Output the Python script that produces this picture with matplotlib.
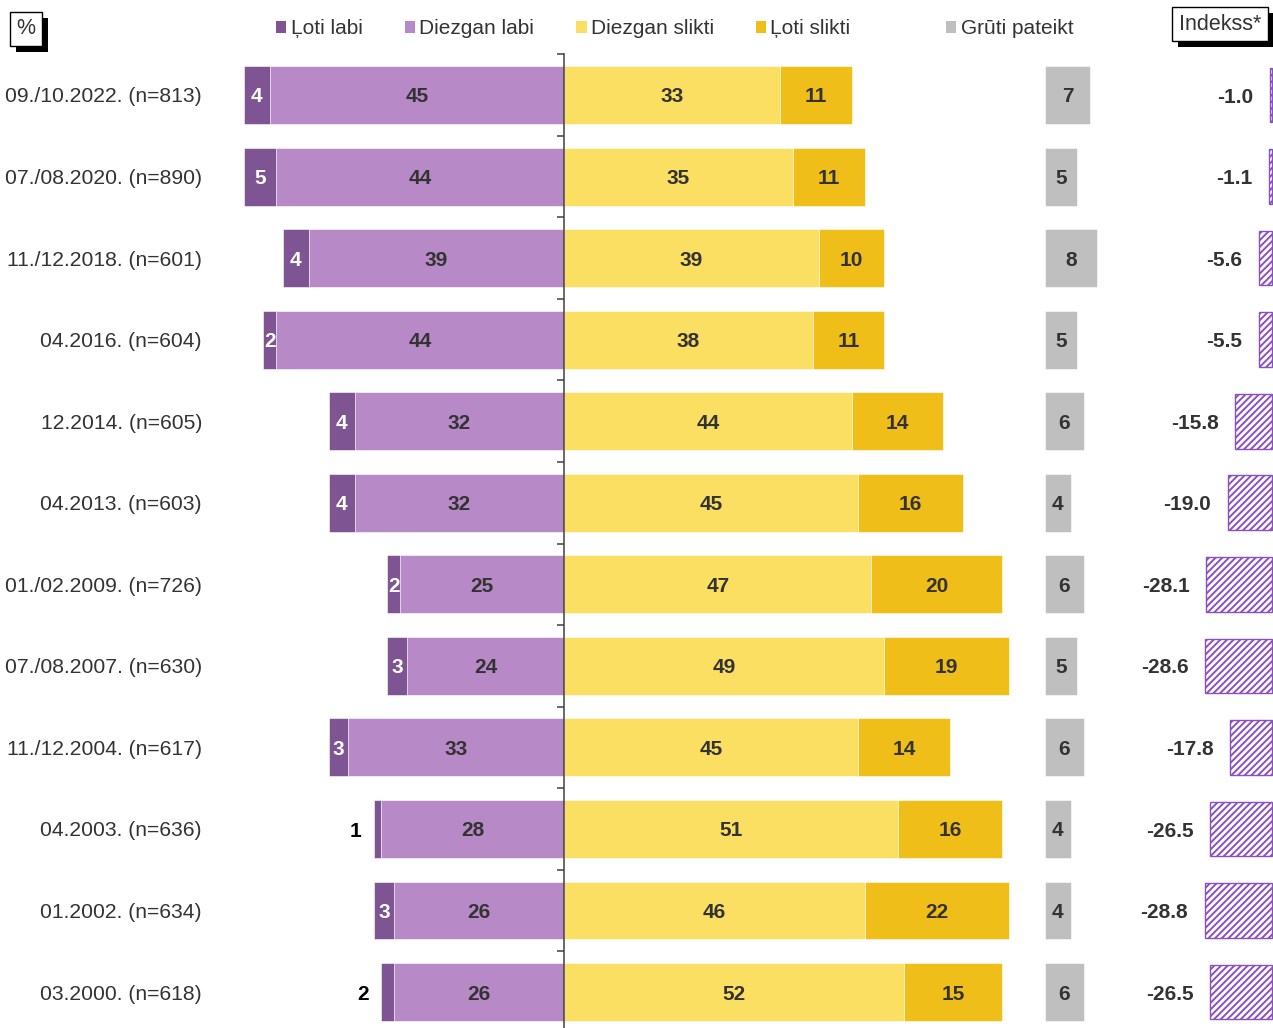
import numpy as np
import matplotlib
matplotlib.use("Agg")
import matplotlib.pyplot as plt
from matplotlib.patches import Patch, Rectangle
from matplotlib.transforms import blended_transform_factory, offset_copy

plt.rcParams['font.family'] = ['Liberation Sans', 'DejaVu Sans']
plt.rcParams['hatch.linewidth'] = 1.4

categories = ["09./10.2022. (n=813)", "07./08.2020. (n=890)", "11./12.2018. (n=601)",
              "04.2016. (n=604)", "12.2014. (n=605)", "04.2013. (n=603)",
              "01./02.2009. (n=726)", "07./08.2007. (n=630)", "11./12.2004. (n=617)",
              "04.2003. (n=636)", "01.2002. (n=634)", "03.2000. (n=618)"]
loti_labi = [4, 5, 4, 2, 4, 4, 2, 3, 3, 1, 3, 2]
diezgan_labi = [45, 44, 39, 44, 32, 32, 25, 24, 33, 28, 26, 26]
diezgan_slikti = [33, 35, 39, 38, 44, 45, 47, 49, 45, 51, 46, 52]
loti_slikti = [11, 11, 10, 11, 14, 16, 20, 19, 14, 16, 22, 15]
gruti = [7, 5, 8, 5, 6, 4, 6, 5, 6, 4, 4, 6]
indekss = [-1.0, -1.1, -5.6, -5.5, -15.8, -19.0, -28.1, -28.6, -17.8, -26.5, -28.8, -26.5]
loti_labi_outside = [False] * 9 + [True, False, True]

legend_labels = ["Ļoti labi", "Diezgan labi", "Diezgan slikti", "Ļoti slikti", "Grūti pateikt"]

C_DP = "#7E5592"
C_LP = "#B78AC7"
C_LY = "#FBDF63"
C_DY = "#F0BE19"
C_GR = "#BFBFBF"
C_IDX = "#8A4FC4"
TXT = "#333333"

W, H = 1273, 1028
fig = plt.figure(figsize=(W / 100, H / 100), dpi=100)

n = len(categories)
y = np.arange(n)
row_px = 81.55
top_px = 95 - row_px / 2
ax_h = n * row_px
ax_bottom = 1 - (top_px + ax_h) / H

scale = 6.54
xl = (-564 / scale, (W - 564) / scale)
ax = fig.add_axes([0, ax_bottom, 1, ax_h / H])
ax.set_xlim(*xl)
ax.set_ylim(n - 0.5, -0.5)

bh = 0.71
ll = np.array(loti_labi, float)
dl = np.array(diezgan_labi, float)
ds = np.array(diezgan_slikti, float)
lsl = np.array(loti_slikti, float)
gr = np.array(gruti, float)

kw = dict(height=bh, edgecolor="white", linewidth=0.4)
ax.barh(y, -dl, left=0, color=C_LP, **kw)
ax.barh(y, -ll, left=-dl, color=C_DP, **kw)
ax.barh(y, ds, left=0, color=C_LY, **kw)
ax.barh(y, lsl, left=ds, color=C_DY, **kw)
gray_left = 73.5
ax.barh(y, gr, left=gray_left, color=C_GR, **kw)

fs = 15
tdata = offset_copy(ax.transData, fig=fig, x=0, y=-2, units="dots")
for i in range(n):
    ax.text(-dl[i] / 2, i, f"{diezgan_labi[i]}", transform=tdata, ha="center", va="center", fontsize=fs,
            fontweight="bold", color=TXT)
    if loti_labi_outside[i]:
        ax.annotate(f"{loti_labi[i]}", (-dl[i] - ll[i], i), xytext=(-9, -1.5), textcoords="offset points",
                    ha="right", va="center", fontsize=fs, fontweight="bold", color="black")
    else:
        ax.text(-dl[i] - ll[i] / 2, i, f"{loti_labi[i]}", transform=tdata, ha="center", va="center", fontsize=fs,
                fontweight="bold", color="white")
    ax.text(ds[i] / 2, i, f"{diezgan_slikti[i]}", transform=tdata, ha="center", va="center", fontsize=fs,
            fontweight="bold", color=TXT)
    ax.text(ds[i] + lsl[i] / 2, i, f"{loti_slikti[i]}", transform=tdata, ha="center", va="center", fontsize=fs,
            fontweight="bold", color=TXT)
    ax.text(gray_left + gr[i] / 2, i, f"{gruti[i]}", transform=tdata, ha="center", va="center", fontsize=fs,
            fontweight="bold", color=TXT)

tr = offset_copy(blended_transform_factory(fig.transFigure, ax.transData), fig=fig, x=0, y=-2, units="dots")
for i, c in enumerate(categories):
    ax.text(202 / W, i, c, transform=tr, ha="right", va="center", fontsize=15.2, color=TXT)

for s in ["top", "right", "bottom"]:
    ax.spines[s].set_visible(False)
ax.spines["left"].set_position(("data", 0))
ax.spines["left"].set_color("#404040")
ax.spines["left"].set_linewidth(1.1)
ax.set_yticks(np.arange(-0.5, n, 1.0))
ax.tick_params(axis="y", direction="out", length=5, width=1.1, color="#404040", labelleft=False)
ax.set_xticks([])
ax.patch.set_alpha(0)

# index axes
idx_scale = 2.36
idx_left_px = 1100
axi = fig.add_axes([idx_left_px / W, ax_bottom, (W - idx_left_px) / W, ax_h / H])
axi.set_xlim(-(W + 1 - idx_left_px) / idx_scale, 1 / idx_scale)
axi.set_ylim(n - 0.5, -0.5)
plt.rcParams['hatch.color'] = C_IDX
axi.barh(y, indekss, height=bh - 0.04, color="white", edgecolor=C_IDX, hatch="/////", linewidth=1.0)
for i, v in enumerate(indekss):
    axi.annotate(f"{v:.1f}", (v, i), xytext=(-12, -1.5), textcoords="offset points",
                 ha="right", va="center", fontsize=fs, fontweight="bold", color=TXT)
axi.axis("off")

# legends
handles = [Patch(facecolor=c, edgecolor="none") for c in [C_DP, C_LP, C_LY, C_DY]]
leg = fig.legend(handles, legend_labels[:4], loc="center left", bbox_to_anchor=(276 / W, 1 - 29 / H),
                 ncol=4, frameon=False, fontsize=fs, handlelength=0.5, handleheight=0.5,
                 handletextpad=0.2, columnspacing=2.02, labelcolor=TXT, borderpad=0, borderaxespad=0)
leg2 = fig.legend([Patch(facecolor=C_GR, edgecolor="none")], legend_labels[4:], loc="center left",
                  bbox_to_anchor=(946 / W, 1 - 29 / H), frameon=False, fontsize=fs, handlelength=0.5,
                  handleheight=0.5, handletextpad=0.2, labelcolor=TXT, borderpad=0, borderaxespad=0)

# boxed labels with drop shadow
boxes = []
def shadow_box(x_px, y_px, s):
    t = fig.text(x_px / W, 1 - y_px / H, s, ha="center", va="center", fontsize=15.5, color=TXT, zorder=5,
                 bbox=dict(boxstyle="square,pad=0.3", facecolor="white", edgecolor="black", linewidth=1))
    boxes.append(t)

shadow_box(26, 29, "%")
shadow_box(1220, 24, "Indekss*")

fig.canvas.draw()
r = fig.canvas.get_renderer()
off = 6
for t in boxes:
    bb = t.get_bbox_patch().get_window_extent(r)
    fig.patches.append(Rectangle((bb.x0 + off, bb.y0 - off), bb.width, bb.height, transform=None,
                                 facecolor="black", edgecolor="none", zorder=1, figure=fig))

fig.savefig("out.png", dpi=100)
